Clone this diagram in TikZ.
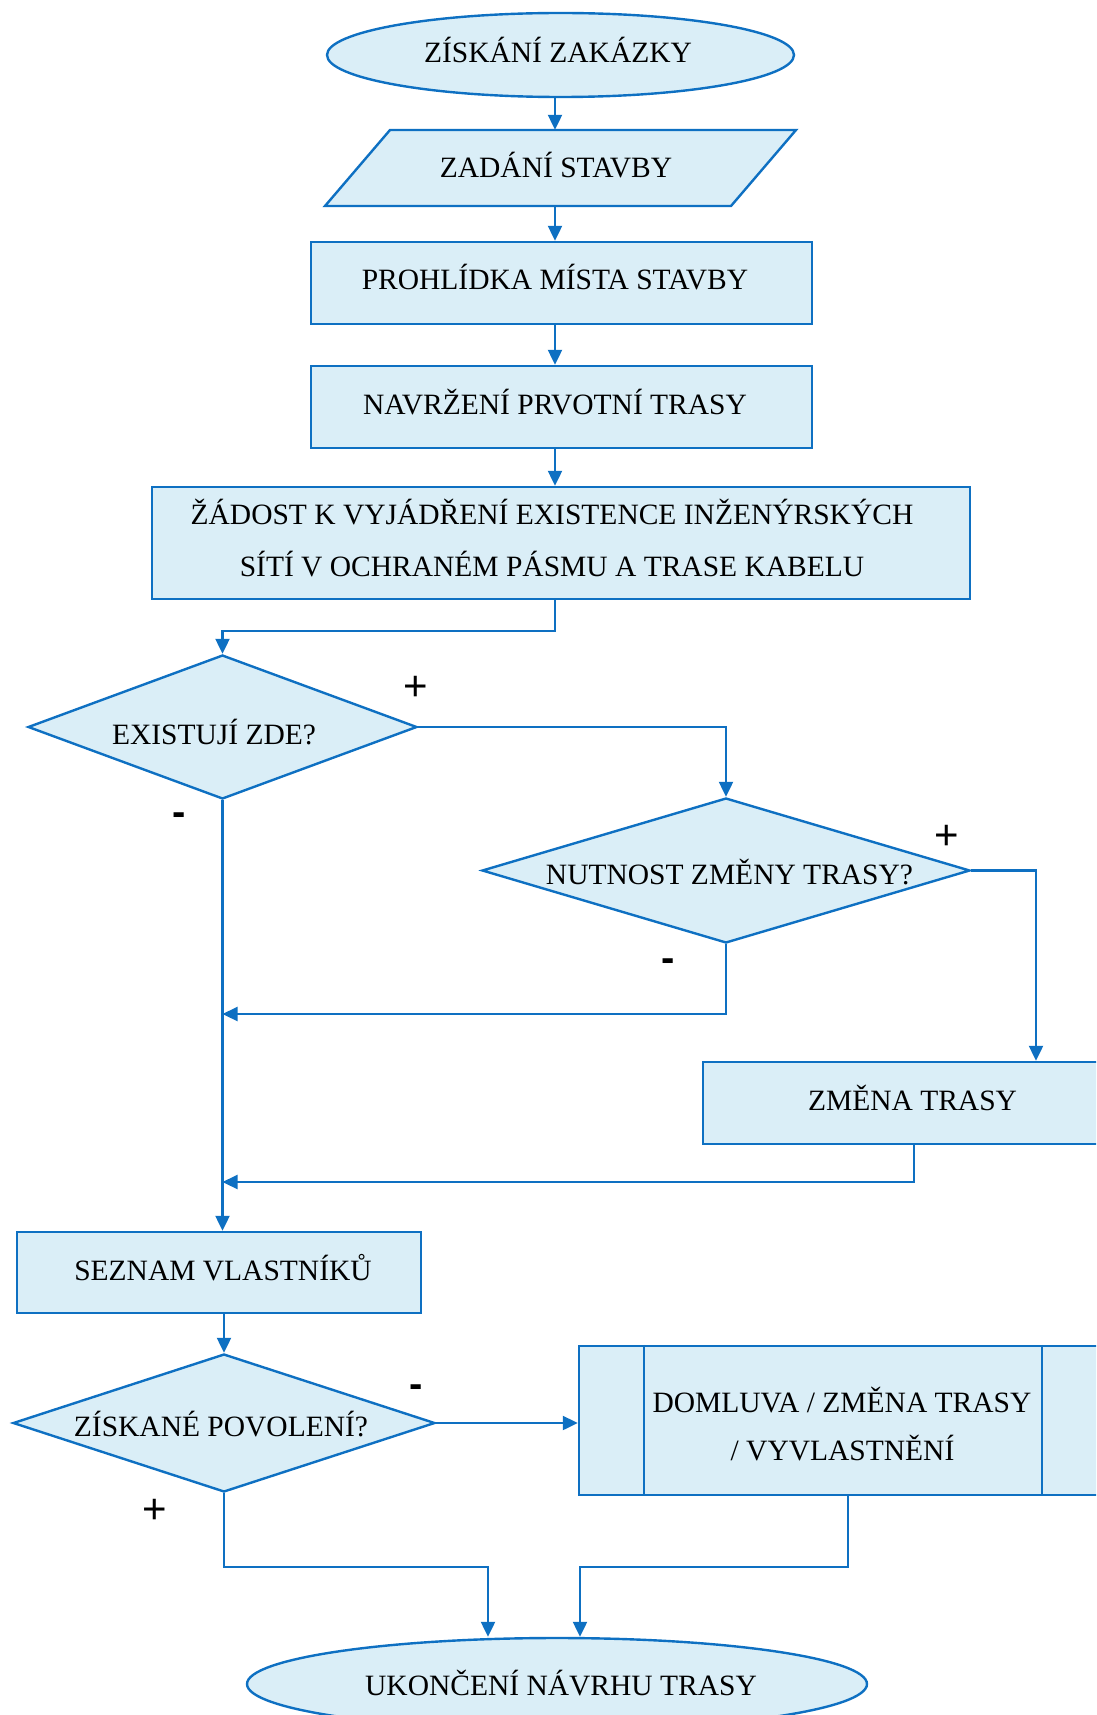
\documentclass[tikz,border=0pt]{standalone}
\usepackage{fontspec}
\setmainfont{Liberation Serif}
\newfontfamily\labfont{Liberation Sans}
\usetikzlibrary{shapes.geometric,arrows.meta,calc}
\definecolor{lineblue}{RGB}{14,112,194}
\definecolor{fillblue}{RGB}{218,238,247}
\begin{document}
\begin{tikzpicture}[x=1pt,y=-1pt,
  tx/.style={font=\fontsize{29.5}{35}\selectfont, text=black, inner sep=0pt, text height=19.6pt, text depth=0pt},
  shp/.style={draw=lineblue, fill=fillblue, line width=2.4pt, inner sep=0pt},
  box/.style={shp, rectangle},
  dec/.style={shp, diamond},
  term/.style={shp, ellipse},
  conn/.style={draw=lineblue, line width=2.2pt},
  arr/.style={conn, -{Triangle[length=15pt,width=14pt]}},
  plus/.style={font=\labfont\fontsize{42}{42}\selectfont, inner sep=0pt},
  minus/.style={font=\labfont\bfseries\fontsize{40}{40}\selectfont, inner sep=0pt},
]
\useasboundingbox (0,0) rectangle (1096,1715);
\clip (0,0) rectangle (1096,1715);

% shapes
\node[term, minimum width=467, minimum height=84] (start) at (560.5,55) {};
\draw[shp] (390,130) -- (796,130) -- (731,206) -- (325,206) -- cycle;
\node[inner sep=0pt, minimum width=406, minimum height=76] (zad) at (560.5,168) {};
\node[box, minimum width=501, minimum height=82] (proh) at (561.5,283) {};
\node[box, minimum width=501, minimum height=82] (navr) at (561.5,407) {};
\node[box, minimum width=818, minimum height=112] (zad2) at (561,543) {};
\node[dec, minimum width=389, minimum height=144] (ex) at (222.5,727) {};
\node[dec, minimum width=488, minimum height=145] (nut) at (726,870.5) {};
\node[box, minimum width=418, minimum height=82] (zmena) at (912,1103) {};
\node[box, minimum width=404, minimum height=81] (sez) at (219,1272.5) {};
\node[dec, minimum width=422, minimum height=138] (pov) at (224,1423) {};
\node[box, minimum width=528, minimum height=149] (dom) at (843,1420.5) {};
\draw[draw=lineblue, line width=2.4pt] ([xshift=66pt]dom.north west) -- ([xshift=66pt]dom.south west);
\draw[draw=lineblue, line width=2.4pt] ([xshift=-66pt]dom.north east) -- ([xshift=-66pt]dom.south east);
\node[term, minimum width=620, minimum height=92] (end) at (557,1684) {};

% texts
\node[tx] (t-start) at (558,53) {ZÍSKÁNÍ ZAKÁZKY};
\node[tx] (t-zad) at (556,168) {ZADÁNÍ STAVBY};
\node[tx] (t-proh) at (555,280) {PROHLÍDKA MÍSTA STAVBY};
\node[tx] (t-navr) at (555,405) {NAVRŽENÍ PRVOTNÍ TRASY};
\node[tx] (t-zad2a) at (552,515) {ŽÁDOST K VYJÁDŘENÍ EXISTENCE INŽENÝRSKÝCH};
\node[tx] (t-zad2b) at (552,567) {SÍTÍ V OCHRANÉM PÁSMU A TRASE KABELU};
\node[tx] (t-ex) at (214,735) {EXISTUJÍ ZDE?};
\node[tx] (t-nut) at (729.5,874.5) {NUTNOST ZMĚNY TRASY?};
\node[tx] (t-zmena) at (912.5,1100.5) {ZMĚNA TRASY};
\node[tx] (t-sez) at (223,1271) {SEZNAM VLASTNÍKŮ};
\node[tx] (t-pov) at (221,1427) {ZÍSKANÉ POVOLENÍ?};
\node[tx] (t-doma) at (842,1403) {DOMLUVA / ZMĚNA TRASY};
\node[tx] (t-domb) at (842.5,1451) {/ VYVLASTNĚNÍ};
\node[tx] (t-end) at (561,1686) {UKONČENÍ NÁVRHU TRASY};

% helper coordinates
\coordinate (ax) at (555,0);
\coordinate (j1) at (555,631);
\coordinate (r1) at (1036,0);
\coordinate (m1) at (0,1014);
\coordinate (m2) at (0,1182);
\coordinate (zb) at (914,0);
\coordinate (m3) at (0,1567);
\coordinate (e1) at (488,0);
\coordinate (e2) at (580,0);
\coordinate (db) at (848,0);

% connectors
\draw[arr] (start.south -| ax) -- (zad.north -| ax);
\draw[arr] (zad.south -| ax) -- (proh.north -| ax);
\draw[arr] (proh.south -| ax) -- (navr.north -| ax);
\draw[arr] (navr.south -| ax) -- (zad2.north -| ax);
\draw[arr] (zad2.south -| ax) -- (j1) -| (ex.north);
\draw[arr] (ex.east) -| (nut.north);
\draw[arr] (nut.east) -| (zmena.north -| r1);
\draw[arr] (ex.south) -- (ex.south |- sez.north);
\draw[arr] (nut.south) -- (nut.south |- m1) -- (ex.south |- m1);
\draw[arr] (zmena.south -| zb) -- (zb |- m2) -- (ex.south |- m2);
\draw[arr] (pov.north |- sez.south) -- (pov.north);
\draw[arr] (pov.east) -- (pov.east -| dom.west);
\draw[arr] (pov.south) -- (pov.south |- m3) -- (e1 |- m3) -- (e1 |- end.north);
\draw[arr] (dom.south -| db) -- (db |- m3) -- (e2 |- m3) -- (e2 |- end.north);

% branch labels
\node[plus] (p1) at (416,688) {+};
\node[minus] (n1) at (179,819) {-};
\node[plus] (p2) at (947,837) {+};
\node[minus] (n2) at (668,965) {-};
\node[minus] (n3) at (416,1391) {-};
\node[plus] (p3) at (155,1511) {+};
\end{tikzpicture}
\end{document}
